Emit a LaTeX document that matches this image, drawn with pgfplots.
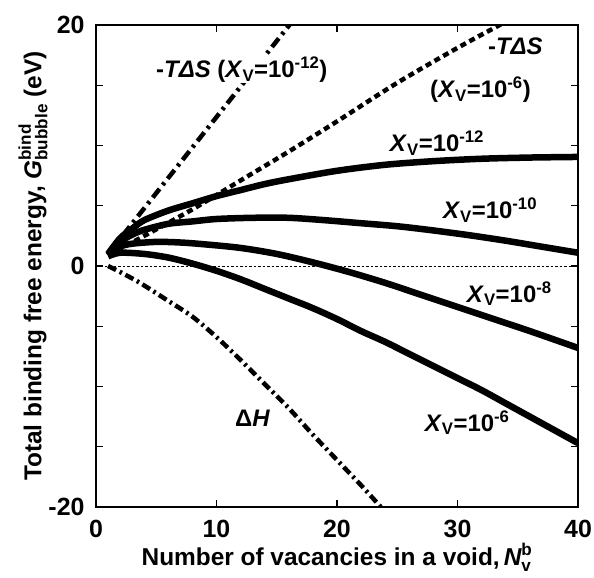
\documentclass[border=0pt]{standalone}
\usepackage{amsmath}
\usepackage{pgfplots}
\pgfplotsset{compat=1.18}
\usepackage{fontspec}
\setmainfont{Liberation Sans}
\begin{document}
\begin{tikzpicture}
\begin{axis}[
  width=482bp, height=482bp, scale only axis,
  xmin=0, xmax=40, ymin=-20, ymax=20,
  xtick={0,10,20,30,40}, ytick={-20,0,20},
  minor ytick={-15,-10,-5,5,10,15},
  tick align=inside, major tick length=7bp, minor tick length=7bp,
  tick style={black, line width=1.2bp},
  axis line style={line width=1.5bp},
  ticklabel style={font=\fontsize{25}{29}\selectfont\bfseries},
  xticklabel style={yshift=-10bp},
  yticklabel style={xshift=-8bp},
  /pgf/number format/assume math mode=true,
  label style={font=\fontsize{24.5}{29}\selectfont\bfseries},
  xlabel={Number of vacancies in a void,\,$\textit{N}^{\text{b}}_{\text{v}}$},
  ylabel={Total binding free energy, $\textit{G}^{\text{bind}}_{\text{bubble}}$ (eV)},
  xlabel style={inner sep=1bp, yshift=0bp},
  ylabel style={yshift=-6bp},
]
% zero line
\addplot[black, line width=0.8bp, dash pattern=on 2.5bp off 2bp] coordinates {(0,0) (40,0)};
% -T dS (X=1e-12)
\addplot[black, line width=4.5bp, dash pattern=on 11bp off 5bp on 3bp off 5bp] coordinates {(1,1.0) (17,21.2)};
% -T dS (X=1e-6)
\addplot[black, line width=4.5bp, dash pattern=on 6bp off 4bp, smooth] coordinates {
(1,0.9) (4,2.5) (8,4.7) (12,7.1) (16,9.5) (20,12.0) (25,15.2) (30,18.1) (33.5,20) (34,20.3)};
% Delta H
\addplot[black, line width=4.5bp, dash pattern=on 9bp off 4bp on 2.5bp off 4bp, smooth] coordinates {
(1,0.0) (2,-0.5) (3.65,-1.4) (6,-2.9) (8,-4.2) (10,-5.9) (12,-7.8) (14,-9.8) (16,-11.8) (18,-14.0) (20,-16.1) (22,-18.2) (24,-20.4)};
% X=1e-12
\addplot[black, line width=6.5bp, smooth] coordinates {
(1,1.0) (2,2.3) (3,3.1) (4,3.8) (6,4.6) (8,5.2) (10,5.8) (12,6.3) (14,6.8) (16,7.2) (20,7.9) (24,8.4) (28,8.7) (32,8.9) (36,9.0) (40,9.05)};
% X=1e-10
\addplot[black, line width=6.5bp, smooth] coordinates {
(1,0.9) (2,2.0) (3,2.6) (4,3.0) (6,3.5) (8,3.7) (10,3.9) (13,4.0) (16,4.0) (19,3.8) (22,3.55) (25,3.3) (28,2.95) (31,2.55) (34,2.1) (37,1.6) (40,1.1)};
% X=1e-8
\addplot[black, line width=6.5bp, smooth] coordinates {
(1,0.9) (2,1.6) (3,1.85) (5,2.0) (7,1.95) (9,1.8) (12,1.5) (15,1.0) (18,0.3) (21,-0.5) (24,-1.4) (27,-2.4) (30,-3.4) (33,-4.4) (36,-5.4) (40,-6.8)};
% X=1e-6
\addplot[black, line width=6.5bp, smooth] coordinates {
(1,0.8) (2,1.1) (4,1.0) (6,0.7) (8,0.2) (10,-0.4) (12,-1.1) (14,-1.9) (16,-2.7) (18,-3.5) (20,-4.4) (22,-5.4) (24,-6.3) (26,-7.3) (28,-8.3) (30,-9.3) (32,-10.3) (34,-11.4) (36,-12.5) (38,-13.6) (40,-14.7)};
% labels
\begin{scope}[every node/.style={font=\fontsize{24}{28}\selectfont\bfseries, inner sep=1pt}]
\node[fill=white] at (axis cs:12.1,16.3) {-\textit{TΔS} (\textit{X}\textsubscript{V}=10\textsuperscript{-12})};
\node at (axis cs:34.8,18.2) {-\textit{TΔS}};
\node at (axis cs:31.9,14.6) {(\textit{X}\textsubscript{V}=10\textsuperscript{-6})};
\node at (axis cs:28.3,10.2) {\textit{X}\textsubscript{V}=10\textsuperscript{-12}};
\node at (axis cs:32.7,4.65) {\textit{X}\textsubscript{V}=10\textsuperscript{-10}};
\node at (axis cs:34.3,-2.3) {\textit{X}\textsubscript{V}=10\textsuperscript{-8}};
\node at (axis cs:30.8,-13.0) {\textit{X}\textsubscript{V}=10\textsuperscript{-6}};
\node at (axis cs:13,-12.6) {Δ\textit{H}};
\end{scope}
\end{axis}
\pgfresetboundingbox
\path[use as bounding box] ([xshift=-96bp,yshift=-71bp]current axis.south west) rectangle ([xshift=16bp,yshift=25bp]current axis.north east);
\end{tikzpicture}
\end{document}
